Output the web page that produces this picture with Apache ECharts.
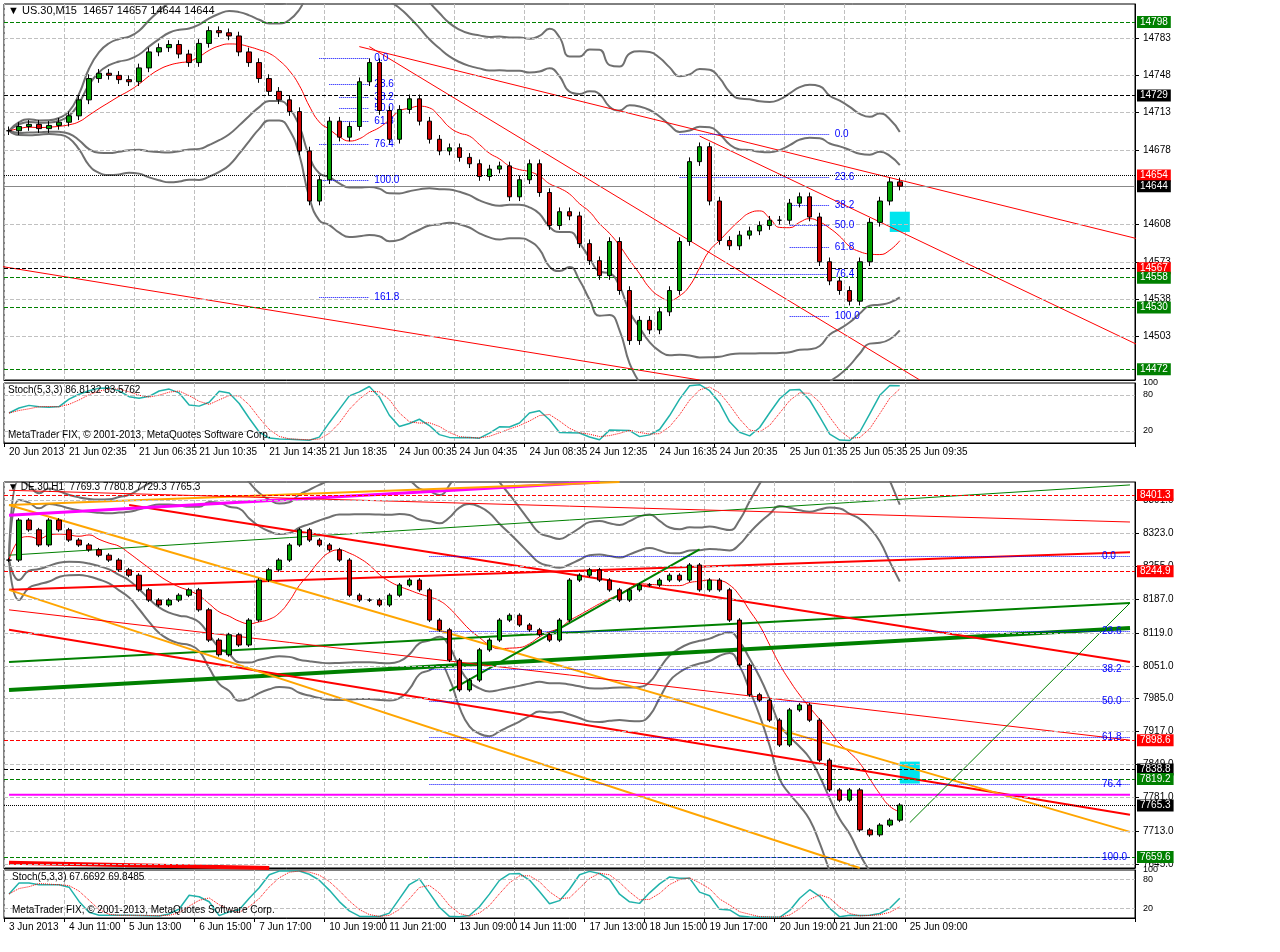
<!DOCTYPE html>
<html><head><meta charset="utf-8">
<script src="https://cdn.jsdelivr.net/npm/echarts@6/dist/echarts.min.js"></script>
<style>html,body{margin:0;padding:0;background:#fff}#c{width:1280px;height:952px}</style>
</head><body><div id="c"></div>
<script>
// ---------- Data: US.30 M15 ----------
const usCloses = [14696,14700,14702,14698,14701,14704,14710,14725,14745,14750,14748,14744,14742,14755,14770,14774,14777,14768,14760,14778,14790,14788,14785,14770,14760,14745,14733,14725,14714,14677,14630,14650,14705,14690,14700,14742,14760,14715,14688,14716,14726,14705,14688,14677,14680,14671,14665,14653,14660,14663,14634,14650,14665,14638,14607,14620,14616,14590,14574,14560,14592,14546,14499,14518,14509,14526,14546,14592,14667,14681,14630,14593,14588,14598,14602,14607,14612,14612,14628,14634,14615,14573,14555,14546,14536,14573,14610,14630,14648,14644];
const usTimeLabels = {0:'20 Jun 2013',6:'21 Jun 02:35',13:'21 Jun 06:35',19:'21 Jun 10:35',26:'21 Jun 14:35',32:'21 Jun 18:35',39:'24 Jun 00:35',45:'24 Jun 04:35',52:'24 Jun 08:35',58:'24 Jun 12:35',65:'24 Jun 16:35',71:'24 Jun 20:35',78:'25 Jun 01:35',84:'25 Jun 05:35',90:'25 Jun 09:35'};
const usTicks = [14503,14538,14573,14608,14678,14713,14748,14783];
const usLevels = [[14798,'#008000','dashed','#008000'],[14729,'#000','dashed','#000'],[14654,'#000','dotted','#ff0000'],[14644,'#888','solid','#000'],[14567,'#000','dashed','#ff0000'],[14558,'#008000','dashed','#008000'],[14530,'#008000','dashed','#008000'],[14472,'#008000','dashed','#008000']];
const usLines = [[35,14775,113,14594,'#ff0000',1],[-1,14569,69,14462,'#ff0000',1],[36,14775,91,14462,'#ff0000',1],[69,14691,113,14494,'#ff0000',1]];
const usFib = [['0.0',14693,67,82],['23.6',14652,67,82],['38.2',14626,78,82],['50.0',14607,78,82],['61.8',14587,78,82],['76.4',14561,68,82],['100.0',14522,78,82],
               ['0.0',14764,31,36],['23.6',14740,32,36],['38.2',14727,33,36],['50.0',14717,33,36],['61.8',14705,33,36],['76.4',14683,31,36],['100.0',14650,31,36],['161.8',14540,31,36]];
// ---------- Data: DE.30 H1 ----------
const deCloses = [8268,8350,8330,8299,8350,8330,8309,8299,8289,8278,8268,8248,8237,8207,8186,8176,8186,8196,8207,8166,8104,8074,8115,8094,8145,8227,8248,8268,8299,8330,8309,8299,8289,8268,8196,8186,8186,8176,8196,8217,8227,8207,8145,8125,8063,8002,8022,8084,8104,8145,8155,8135,8125,8115,8104,8145,8227,8237,8248,8227,8207,8186,8207,8217,8217,8227,8237,8227,8258,8207,8227,8207,8145,8053,7992,7981,7940,7889,7961,7971,7940,7858,7797,7776,7797,7715,7705,7725,7735,7766];
const deTimeLabels = {0:'3 Jun 2013',6:'4 Jun 11:00',12:'5 Jun 13:00',19:'6 Jun 15:00',25:'7 Jun 17:00',32:'10 Jun 19:00',38:'11 Jun 21:00',45:'13 Jun 09:00',51:'14 Jun 11:00',58:'17 Jun 13:00',64:'18 Jun 15:00',70:'19 Jun 17:00',77:'20 Jun 19:00',83:'21 Jun 21:00',90:'25 Jun 09:00'};
const deTicks = [7645,7713,7781,7849,7917,7985,8051,8119,8187,8255,8323,8391];
const deLevels = [[8401.3,'#ff0000','dashed','#ff0000'],[8244.9,'#ff0000','dashed','#ff0000'],[7898.6,'#ff0000','dashed','#ff0000'],[7838.8,'#000','dashed','#000'],[7819.2,'#008000','dashed','#008000'],[7765.3,'#000','dotted','#000'],[7659.6,'#008000','dashed','#008000']];
const deLines = [[0,8002,112,8129,'#008000',4],[0,8059,112,8180,'#008000',2],[0,8278,112,8422,'#008000',1],[0,8207,112,8284,'#ff0000',2],[12,8381,112,8059,'#ff0000',2],[0,8125,112,7746,'#ff0000',2],[0,8381,112,7711,'#ffa500',2],[0,8207,85,7637,'#ffa500',2],[0,8360,59,8428,'#ff00ff',3],[0,7787,112,7787,'#ff00ff',2],[0,8381,61,8428,'#ffa500',2],[0,8166,112,7899,'#ff0000',1],[0,8411,112,8346,'#ff0000',1],[0,7648,26,7637,'#ff0000',4],[44,8000,69,8290,'#008000',2],[90,7730,112,8180,'#008000',1]];
const deFib = [['0.0',8275],['23.6',8122],['38.2',8045],['50.0',7978],['61.8',7905],['76.4',7809],['100.0',7660]];

const FONT='Liberation Sans';
function ohlc(c){return c.map((v,i)=>{const o=i?c[i-1]:v;return [o,v,Math.min(o,v)-4,Math.max(o,v)+4];});}
function sma(c,n){return c.map((v,i)=>{const s=c.slice(Math.max(0,i-n+1),i+1);return s.reduce((a,b)=>a+b,0)/s.length;});}
function bands(c,n,k){return c.map((v,i)=>{const s=c.slice(Math.max(0,i-n+1),i+1);const m=s.reduce((a,b)=>a+b,0)/s.length;const sd=Math.sqrt(s.reduce((a,b)=>a+(b-m)*(b-m),0)/s.length);return [m+k*sd,m-k*sd];});}
function stoch(d){const raw=d.map((x,i)=>{const w=d.slice(Math.max(0,i-4),i+1);const lo=Math.min(...w.map(q=>q[2])),hi=Math.max(...w.map(q=>q[3]));return hi>lo?(x[1]-lo)/(hi-lo)*100:50;});const k=sma(raw,3);return [k,sma(k,3)];}
const N=113;
function cats(lbl){return Array.from({length:N},(_,i)=>lbl[i]||'');}

const grids=[{left:4,right:145,top:4,height:376},{left:4,right:145,top:383,height:60},{left:4,right:145,top:482,height:386},{left:4,right:145,top:870,height:48}];
const xAxis=[],yAxis=[],series=[];
function panel(gi,closes,labels,ticks,min,max,levels,lines,dec){
  const d=ohlc(closes),c=cats(labels);
  xAxis.push({type:'category',gridIndex:gi,data:c,axisLabel:{show:false},axisTick:{show:false},axisLine:{lineStyle:{color:'#000'}},splitLine:{show:true,interval:(i)=>!!labels[i],lineStyle:{color:'#c0c0c0',type:'dashed'}}});
  xAxis.push({type:'category',gridIndex:gi+1,data:c,axisLine:{lineStyle:{color:'#000'}},axisTick:{show:true,interval:(i)=>!!labels[i],length:4},axisLabel:{interval:(i)=>!!labels[i],hideOverlap:false,color:'#000',fontSize:10,fontFamily:FONT,margin:4,align:'left'},splitLine:{show:true,interval:(i)=>!!labels[i],lineStyle:{color:'#c0c0c0',type:'dashed'}}});
  const xi=xAxis.length-2, yi=yAxis.length;
  yAxis.push({type:'value',gridIndex:gi,position:'right',min,max,axisLine:{show:true,lineStyle:{color:'#000'}},axisTick:{show:true,customValues:ticks,length:4},axisLabel:{customValues:ticks,color:'#000',fontSize:10,fontFamily:FONT,formatter:v=>v.toFixed(dec)},splitLine:{show:false}});
  yAxis.push({type:'value',gridIndex:gi+1,position:'right',min:0,max:100,axisLine:{show:true,lineStyle:{color:'#000'}},axisTick:{customValues:[20,80,100]},axisLabel:{customValues:[20,80,100],color:'#000',fontSize:9,fontFamily:FONT},splitLine:{show:false}});
  series.push({type:'line',xAxisIndex:xi,yAxisIndex:yi,data:[],markLine:{silent:true,symbol:'none',label:{show:false},lineStyle:{color:'#c0c0c0',type:'dashed',width:1},data:ticks.map(t=>({yAxis:t}))}});
  const bb=bands(closes,20,2),bb2=bands(closes,20,3),m=sma(closes,8);
  [bb.map(b=>b[0]),bb.map(b=>b[1]),bb2.map(b=>b[0]),bb2.map(b=>b[1])].forEach(s=>series.push({type:'line',xAxisIndex:xi,yAxisIndex:yi,data:s,showSymbol:false,smooth:true,clip:true,lineStyle:{color:'#707070',width:2},z:2}));
  series.push({type:'line',xAxisIndex:xi,yAxisIndex:yi,data:m,showSymbol:false,smooth:true,lineStyle:{color:'#ff0000',width:1},z:3});
  lines.forEach(l=>series.push({type:'line',xAxisIndex:xi,yAxisIndex:yi,data:[[l[0],l[1]],[l[2],l[3]]],showSymbol:false,lineStyle:{color:l[4],width:l[5]},z:4,clip:true}));
  series.push({type:'line',xAxisIndex:xi,yAxisIndex:yi,data:[],z:5,markLine:{silent:true,symbol:'none',data:levels.map(L=>({yAxis:L[0],lineStyle:{color:L[1],type:L[2],width:1},label:{show:true,position:'end',formatter:L[0].toFixed(dec),color:'#fff',backgroundColor:L[3],padding:[1,3],fontSize:10,fontFamily:FONT,distance:2}}))}});
  series.push({type:'candlestick',xAxisIndex:xi,yAxisIndex:yi,data:d,barWidth:5,z:6,itemStyle:{color:'#00a000',color0:'#d00000',borderColor:'#000',borderColor0:'#000',borderWidth:1}});
  const [k,sg]=stoch(d);
  series.push({type:'line',xAxisIndex:xi+1,yAxisIndex:yi+1,data:[],markLine:{silent:true,symbol:'none',label:{show:false},lineStyle:{color:'#c0c0c0',type:'dashed'},data:[{yAxis:20},{yAxis:80}]}});
  series.push({type:'line',xAxisIndex:xi+1,yAxisIndex:yi+1,data:k,showSymbol:false,lineStyle:{color:'#20b2aa',width:1.5}});
  series.push({type:'line',xAxisIndex:xi+1,yAxisIndex:yi+1,data:sg,showSymbol:false,lineStyle:{color:'#ff0000',width:1,type:'dotted'}});
  return [xi,yi];
}
const [ux,uy]=panel(0,usCloses,usTimeLabels,usTicks,14462,14815,usLevels,usLines,0);
const [dx,dy]=panel(2,deCloses,deTimeLabels,deTicks,7637,8428,deLevels,deLines,1);
series.push({type:'line',xAxisIndex:ux,yAxisIndex:uy,data:[],z:7,markLine:{silent:true,symbol:'none',data:usFib.map(f=>[{coord:[f[2],f[1]],lineStyle:{color:'#0000ff',type:'dotted',width:1},label:{show:true,position:'end',formatter:f[0],color:'#0000ff',fontSize:10,fontFamily:FONT}},{coord:[f[3],f[1]]}])}});
series.push({type:'line',xAxisIndex:dx,yAxisIndex:dy,data:[],z:7,markLine:{silent:true,symbol:'none',data:deFib.map(f=>[{coord:[42,f[1]],lineStyle:{color:'#0000ff',type:'dotted',width:1},label:{show:true,position:'end',formatter:f[0],color:'#0000ff',fontSize:10,fontFamily:FONT,distance:[-28,-8]}},{coord:[112,f[1]]}])}});
series.push({type:'line',xAxisIndex:ux,yAxisIndex:uy,data:[],markArea:{silent:true,itemStyle:{color:'#00e5ee'},data:[[{coord:[88,14601]},{coord:[90,14620]}]]}});
series.push({type:'line',xAxisIndex:dx,yAxisIndex:dy,data:[],markArea:{silent:true,itemStyle:{color:'#00e5ee'},data:[[{coord:[89,7810]},{coord:[91,7855]}]]}});

const txt=(x,y,t,fs)=>({type:'text',left:x,top:y,style:{text:t,fontSize:fs||11,fontFamily:FONT,fill:'#000'},z:100});
const chart=echarts.init(document.getElementById('c'));
chart.setOption({animation:false,backgroundColor:'#fff',grid:grids.map(g=>Object.assign({show:true,borderColor:'#000',borderWidth:1,backgroundColor:'transparent'},g)),xAxis,yAxis,series,
graphic:[txt(8,5,'▼ US.30,M15  14657 14657 14644 14644'),txt(8,385,'Stoch(5,3,3) 86.8132 83.5762',10),txt(8,430,'MetaTrader FIX, © 2001-2013, MetaQuotes Software Corp.',10),
txt(8,482,'▼ DE.30,H1  7769.3 7780.8 7729.3 7765.3',10),txt(12,872,'Stoch(5,3,3) 67.6692 69.8485',10),txt(12,905,'MetaTrader FIX, © 2001-2013, MetaQuotes Software Corp.',10)]});
</script></body></html>
